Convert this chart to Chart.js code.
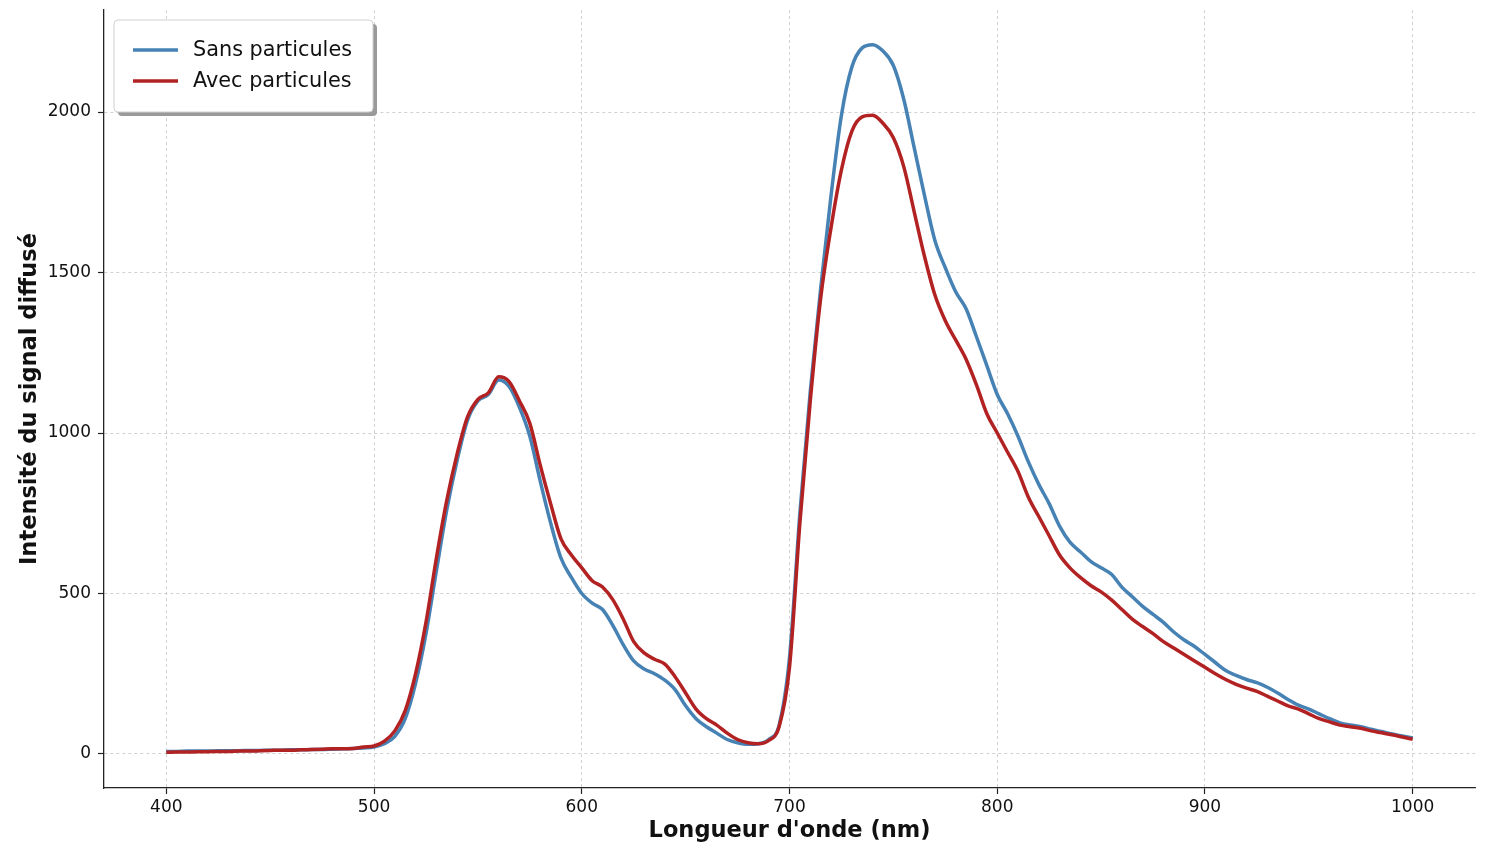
<!DOCTYPE html>
<html>
<head>
<meta charset="utf-8">
<script src="https://cdn.jsdelivr.net/npm/chart.js@4/dist/chart.umd.min.js"></script>
<style>
  html, body { margin: 0; padding: 0; background: #fff; }
  #wrap { width: 1489px; height: 845px; position: relative; }
</style>
</head>
<body>
<div id="wrap"><canvas id="spectre"></canvas></div>
<script>
// longueurs d'onde (nm)
const wavelengths = [
  400,405,410,415,420,425,430,435,440,445,450,455,460,465,470,475,480,485,490,495,
  500,505,510,515,520,525,530,535,540,545,550,555,560,565,570,575,580,585,590,595,
  600,605,610,615,620,625,630,635,640,645,650,655,660,665,670,675,680,685,690,695,
  700,705,710,715,720,725,730,735,740,745,750,755,760,765,770,775,780,785,790,795,
  800,805,810,815,820,825,830,835,840,845,850,855,860,865,870,875,880,885,890,895,
  900,905,910,915,920,925,930,935,940,945,950,955,960,965,970,975,980,985,990,995,
  1000
];

const sansParticules = [
  8,8,9,9,9,10,10,10,11,11,12,12,13,13,14,14,15,16,17,19,
  22,32,55,110,220,375,570,760,915,1040,1100,1120,1165,1145,1080,990,850,720,610,550,
  500,470,450,400,340,290,265,250,230,200,150,110,85,65,45,35,30,32,45,90,
  300,750,1130,1450,1740,1990,2140,2200,2210,2190,2145,2040,1890,1740,1600,1515,1440,1387,1300,1210,
  1120,1060,990,910,840,780,710,660,630,600,580,560,520,490,460,435,410,380,355,335,
  310,285,260,245,232,222,208,190,170,152,140,125,110,97,90,85,77,70,62,56,
  50
];

const avecParticules = [
  5,6,6,7,7,8,8,9,9,10,11,12,12,13,14,15,16,16,17,22,
  25,40,72,135,250,410,610,790,935,1050,1105,1125,1175,1160,1100,1030,900,780,670,620,
  580,540,520,480,420,350,315,295,280,240,190,140,110,90,65,45,35,32,42,85,
  270,720,1100,1420,1640,1820,1940,1985,1990,1965,1920,1830,1690,1550,1430,1350,1290,1230,1150,1060,
  1000,940,880,800,740,680,620,580,550,525,505,480,450,420,397,375,350,330,310,290,
  270,250,232,217,205,195,180,165,150,140,125,110,100,90,85,80,72,66,60,53,
  46
];

const xTicks = [400, 500, 600, 700, 800, 900, 1000];
const yTicks = [0, 500, 1000, 1500, 2000];

const toPoints = vals => wavelengths.map((w, i) => ({ x: w, y: vals[i] }));

// légende avec ombre, dessinée à la main
const legendBox = {
  id: 'legendBox',
  afterDraw(chart) {
    const ctx = chart.ctx;
    const x = 114, y = 20, w = 259, h = 92;
    ctx.save();
    ctx.fillStyle = '#9a9a9a';
    ctx.beginPath(); ctx.roundRect(x + 4, y + 4, w, h, 4); ctx.fill();
    ctx.fillStyle = '#fff';
    ctx.strokeStyle = '#d0d0d0';
    ctx.lineWidth = 1;
    ctx.beginPath(); ctx.roundRect(x, y, w, h, 4); ctx.fill(); ctx.stroke();
    ctx.font = '20.8px "DejaVu Sans"';
    ctx.textBaseline = 'middle';
    chart.data.datasets.forEach((ds, i) => {
      const ly = y + 30 + i * 31;
      ctx.strokeStyle = ds.borderColor;
      ctx.lineWidth = 3.5;
      ctx.beginPath(); ctx.moveTo(x + 19, ly); ctx.lineTo(x + 64, ly); ctx.stroke();
      ctx.fillStyle = '#111';
      ctx.fillText(ds.label, x + 79, ly + 1);
    });
    ctx.restore();
  }
};

const plain = v => String(v);

new Chart(document.getElementById('spectre').getContext('2d'), {
  type: 'line',
  data: {
    datasets: [
      { label: 'Sans particules', data: toPoints(sansParticules), borderColor: '#4682b4', borderWidth: 3.5, pointRadius: 0, cubicInterpolationMode: 'monotone', order: 2 },
      { label: 'Avec particules', data: toPoints(avecParticules), borderColor: '#b22222', borderWidth: 3.5, pointRadius: 0, cubicInterpolationMode: 'monotone', order: 1 }
    ]
  },
  options: {
    responsive: true, maintainAspectRatio: false, animation: false,
    layout: { padding: { top: 10, right: 14, left: 0, bottom: 0 } },
    plugins: { legend: { display: false }, tooltip: { enabled: false } },
    scales: {
      x: {
        type: 'linear', min: 370, max: 1030,
        afterBuildTicks: s => { s.ticks = xTicks.map(v => ({ value: v })); },
        afterFit: s => { s.height = 57; s.paddingLeft = 0; s.paddingRight = 0; },
        ticks: { color: '#111', font: { family: 'DejaVu Sans', size: 17 }, padding: 3, maxRotation: 0, callback: plain },
        grid: { color: '#c6c6c6', lineWidth: 0.8, tickColor: '#222', tickLength: 6, tickWidth: 1.2 },
        border: { color: '#222', width: 1.3, dash: [3, 3] },
        title: { display: true, text: "Longueur d'onde (nm)", color: '#111', font: { family: 'DejaVu Sans', size: 22.5, weight: 'bold' }, padding: { top: 0, bottom: 0 } }
      },
      y: {
        type: 'linear', min: -106, max: 2318,
        afterBuildTicks: s => { s.ticks = yTicks.map(v => ({ value: v })); },
        afterFit: s => { s.width = 104; s.paddingTop = 0; s.paddingBottom = 0; },
        ticks: { color: '#111', font: { family: 'DejaVu Sans', size: 17 }, padding: 7, callback: plain },
        grid: { color: '#c6c6c6', lineWidth: 0.8, tickColor: '#222', tickLength: 6, tickWidth: 1.2 },
        border: { color: '#222', width: 1.3, dash: [3, 3] },
        title: { display: true, text: 'Intensité du signal diffusé', color: '#111', font: { family: 'DejaVu Sans', size: 22.5, weight: 'bold' }, padding: { top: 17, bottom: 0 } }
      }
    }
  },
  plugins: [legendBox]
});
</script>
</body>
</html>
